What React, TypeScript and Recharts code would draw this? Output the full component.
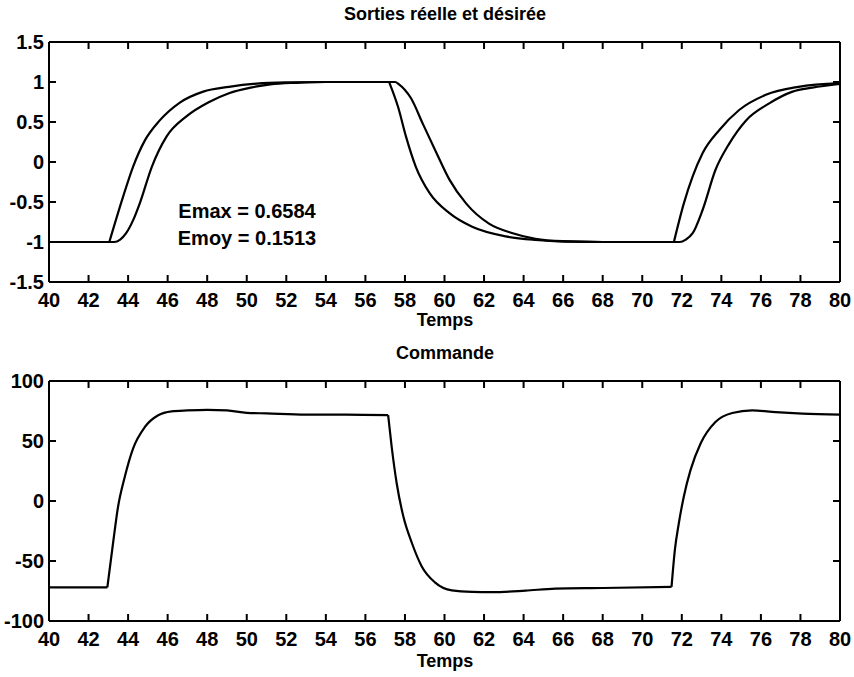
import { Line, LineChart, ReferenceLine, XAxis, YAxis } from "recharts";

const FONT = "'Liberation Sans', Arial, Helvetica, sans-serif";

const T_TICKS = [40, 42, 44, 46, 48, 50, 52, 54, 56, 58, 60, 62, 64, 66, 68, 70, 72, 74, 76, 78, 80];
const OUT_TICKS = [-1.5, -1, -0.5, 0, 0.5, 1, 1.5];
const CMD_TICKS = [-100, -50, 0, 50, 100];

// sortie désirée (modèle de référence) — coins francs aux instants de commutation
const desiredT = [40, 43.05, 43.7, 44.25, 44.85, 45.6, 46.6, 47.8, 49.1, 50.5, 52, 54, 57.2,
  57.65, 58.05, 58.55, 59.25, 60.25, 61.4, 63.1, 64.6, 66, 68, 71.6,
  72.1, 72.55, 73.05, 73.9, 74.9, 76.25, 77.9, 80];
const desiredY = [-1, -1, -0.47, -0.06, 0.27, 0.52, 0.74, 0.88, 0.94, 0.98, 0.995, 1, 1,
  0.69, 0.32, -0.06, -0.39, -0.64, -0.81, -0.93, -0.975, -0.995, -1, -1,
  -0.52, -0.18, 0.11, 0.4, 0.65, 0.84, 0.94, 0.985];
const desiredCorners = [43.05, 57.2, 71.6];

// sortie réelle
const realT = [40, 43.3, 43.6, 43.9, 44.25, 44.6, 45.2, 45.95, 46.95, 48.1, 49.1, 50.2, 51.2, 52.5, 54, 57.5,
  57.7, 58, 58.3, 58.9, 59.6, 60.25, 61.1, 62.25, 63.45, 64.6, 66, 68, 71.9,
  72.2, 72.55, 73.05, 73.7, 74.4, 75.25, 76.4, 77.6, 78.6, 80];
const realY = [-1, -1, -0.97, -0.89, -0.73, -0.51, -0.06, 0.32, 0.57, 0.75, 0.86, 0.93, 0.97, 0.99, 1, 1,
  0.97, 0.9, 0.8, 0.48, 0.11, -0.22, -0.52, -0.77, -0.89, -0.96, -0.99, -1, -1,
  -0.97, -0.89, -0.6, -0.1, 0.23, 0.52, 0.73, 0.88, 0.93, 0.975];

// commande
const cmdT = [40, 42.95, 43.24, 43.49, 43.83, 44.25, 44.85, 45.52, 46.2, 47, 48, 49, 50, 51, 53, 55, 57.15,
  57.33, 57.58, 57.92, 58.35, 58.85, 59.53, 60.37, 61.4, 62.4, 64.1, 65.6, 68, 71.48,
  71.65, 71.85, 72.1, 72.44, 72.95, 73.7, 74.55, 75.56, 76.75, 78.1, 80];
const cmdU = [-72, -72, -35, -5, 20, 43.7, 61.7, 71.4, 74.7, 75.5, 76, 75.5, 73.5, 73, 72, 72, 71.5,
  45, 15, -13, -35, -54.5, -68, -74.5, -75.8, -76, -74.7, -73, -72.5, -71.6,
  -40.7, -18.5, 3.6, 25.7, 47.9, 65.8, 73.3, 75.5, 74, 72.8, 72];
const cmdCorners = [42.95, 57.15, 71.48];

type Pt = { t: number; v: number | null };
const zip = (xs: number[], ys: number[]): Pt[] => xs.map((t, i) => ({ t, v: ys[i] }));

// découpe une courbe aux coins pour garder des angles vifs
function split(pts: Pt[], corners: number[]): Pt[][] {
  const out: Pt[][] = [];
  let cur: Pt[] = [];
  for (const p of pts) {
    cur.push(p);
    if (corners.includes(p.t)) {
      out.push(cur);
      cur = [p];
    }
  }
  if (cur.length > 1) out.push(cur);
  return out;
}

const PLOT_W = 791; // px, largeur du cadre
const PLOT_H = 240; // px, hauteur du cadre
const TICK_PX = 7;
const txt = { fill: "#000", fontSize: 20, fontWeight: 700, fontFamily: FONT };

// graduations intérieures des quatre côtés, en petits segments séparés par des trous
function tickMarks(yTicks: number[], [y0, y1]: [number, number]): Pt[] {
  const dx = (TICK_PX * 40) / PLOT_W;
  const dy = (TICK_PX * (y1 - y0)) / PLOT_H;
  const pts: Pt[] = [];
  for (const t of T_TICKS) {
    pts.push({ t, v: y0 }, { t, v: y0 + dy }, { t, v: null });
    pts.push({ t, v: y1 }, { t, v: y1 - dy }, { t, v: null });
  }
  for (const v of yTicks) {
    pts.push({ t: 40, v }, { t: 40 + dx, v }, { t: 40, v: null });
    pts.push({ t: 80, v }, { t: 80 - dx, v }, { t: 80, v: null });
  }
  return pts;
}

function Label({ x, y, children, size = 18 }: { x: number; y: number; children: React.ReactNode; size?: number }) {
  return (
    <div
      style={{
        position: "absolute",
        left: x,
        top: y,
        transform: "translate(-50%, -50%)",
        fontFamily: FONT,
        fontWeight: 700,
        fontSize: size,
        whiteSpace: "nowrap",
        color: "#000",
      }}
    >
      {children}
    </div>
  );
}

function frame(yTicks: number[], yDomain: [number, number]) {
  const [y0, y1] = yDomain;
  const seg = { xAxisId: "b", yAxisId: "l", stroke: "#000", strokeWidth: 2 };
  return [
    <XAxis key="xb" xAxisId="b" dataKey="t" type="number" domain={[40, 80]} ticks={T_TICKS} interval={0}
      allowDataOverflow tickLine={false} tickSize={0} tickMargin={11} height={18} tick={txt}
      stroke="#000" strokeWidth={2} />,
    <YAxis key="yl" yAxisId="l" type="number" domain={yDomain} ticks={yTicks} interval={0}
      allowDataOverflow tickLine={false} tickSize={0} tickMargin={5} width={49} tick={txt}
      stroke="#000" strokeWidth={2} />,
    <ReferenceLine key="top" {...seg} segment={[{ x: 40, y: y1 }, { x: 80, y: y1 }]} />,
    <ReferenceLine key="right" {...seg} segment={[{ x: 80, y: y0 }, { x: 80, y: y1 }]} />,
    <Line key="ticks" data={tickMarks(yTicks, yDomain)} xAxisId="b" yAxisId="l" dataKey="v" type="linear"
      connectNulls={false} stroke="#000" strokeWidth={2} dot={false} activeDot={false} isAnimationActive={false} />,
  ];
}

const lineProps = {
  xAxisId: "b", yAxisId: "l", dataKey: "v", type: "monotone" as const, stroke: "#000",
  strokeWidth: 2.2, dot: false, activeDot: false, isAnimationActive: false,
};

export default function App() {
  const desired = split(zip(desiredT, desiredY), desiredCorners);
  const real = zip(realT, realY);
  const cmd = split(zip(cmdT, cmdU), cmdCorners);

  return (
    <div style={{ position: "absolute", left: 0, top: 0, width: 854, height: 677, background: "#fff" }}>
      <div style={{ position: "absolute", left: 0, top: 0 }}>
        <LineChart width={854} height={340} margin={{ top: 42, right: 14, left: 0, bottom: 40 }}>
          {frame(OUT_TICKS, [-1.5, 1.5])}
          {desired.map((seg, i) => <Line key={"d" + i} data={seg} {...lineProps} />)}
          <Line data={real} {...lineProps} />
        </LineChart>
      </div>
      <div style={{ position: "absolute", left: 0, top: 330 }}>
        <LineChart width={854} height={347} margin={{ top: 51, right: 14, left: 0, bottom: 38 }}>
          {frame(CMD_TICKS, [-100, 100])}
          {cmd.map((seg, i) => <Line key={"c" + i} data={seg} {...lineProps} />)}
        </LineChart>
      </div>
      <Label x={445} y={14}>Sorties réelle et désirée</Label>
      <Label x={445} y={320}>Temps</Label>
      <Label x={247} y={211} size={20}>Emax = 0.6584</Label>
      <Label x={247} y={238} size={20}>Emoy = 0.1513</Label>
      <Label x={445} y={353}>Commande</Label>
      <Label x={445} y={661}>Temps</Label>
    </div>
  );
}
